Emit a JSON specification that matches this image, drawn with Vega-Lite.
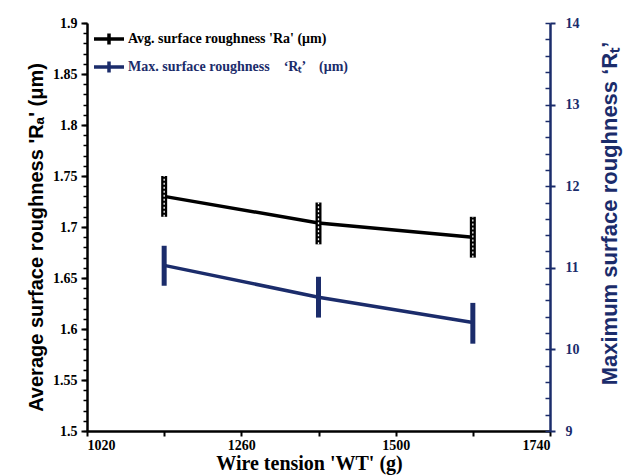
{
  "$schema": "https://vega.github.io/schema/vega-lite/v6.json",
  "width": 463,
  "height": 408,
  "autosize": {"type": "none"},
  "padding": {"left": 87, "top": 23, "right": 83, "bottom": 44},
  "background": "white",
  "config": {
    "view": {"stroke": null},
    "axis": {"grid": false, "labelFont": "Liberation Serif", "labelFontWeight": "bold", "labelFontSize": 14}
  },
  "datasets": {
    "ra": [
      {"t": 1140, "v": 1.730, "lo": 1.710, "hi": 1.750, "s": "Avg. surface roughness 'Ra' (μm)"},
      {"t": 1380, "v": 1.704, "lo": 1.683, "hi": 1.724, "s": "Avg. surface roughness 'Ra' (μm)"},
      {"t": 1620, "v": 1.690, "lo": 1.670, "hi": 1.710, "s": "Avg. surface roughness 'Ra' (μm)"}
    ],
    "rt": [
      {"t": 1140, "v": 11.03, "lo": 10.78, "hi": 11.27, "s": "Max. surface roughness \u00a0\u00a0\u00a0‘Rₜ’ \u00a0\u00a0\u00a0(μm)"},
      {"t": 1380, "v": 10.64, "lo": 10.39, "hi": 10.89, "s": "Max. surface roughness \u00a0\u00a0\u00a0‘Rₜ’ \u00a0\u00a0\u00a0(μm)"},
      {"t": 1620, "v": 10.33, "lo": 10.07, "hi": 10.57, "s": "Max. surface roughness \u00a0\u00a0\u00a0‘Rₜ’ \u00a0\u00a0\u00a0(μm)"}
    ]
  },
  "encoding": {
    "x": {
      "field": "t", "type": "quantitative",
      "scale": {"domain": [1020, 1740]},
      "axis": {
        "values": [1020, 1140, 1260, 1380, 1500, 1620, 1740],
        "labelExpr": "indexof([1020, 1260, 1500, 1740], datum.value) >= 0 ? datum.value : ''",
        "title": "Wire tension 'WT' (g)",
        "titleFont": "Liberation Serif", "titleFontWeight": "bold", "titleFontSize": 20, "titleColor": "black",
        "titlePadding": 1, "titleX": 222,
        "domainColor": "black", "domainWidth": 2.5,
        "tickColor": "black", "tickWidth": 2, "tickSize": 5,
        "labelPadding": 2, "labelColor": "black"
      }
    }
  },
  "layer": [
    {
      "data": {"name": "ra"},
      "layer": [
        {
          "mark": {"type": "line", "strokeWidth": 3.5},
          "encoding": {
            "y": {
              "field": "v", "type": "quantitative",
              "scale": {"domain": [1.5, 1.9]},
              "axis": {
                "orient": "left",
                "values": [1.5, 1.55, 1.6, 1.65, 1.7, 1.75, 1.8, 1.85, 1.9],
                "format": "~g",
                "title": "Average surface roughness 'Rₐ' (μm)",
                "titleFont": "Liberation Sans", "titleFontWeight": "bold", "titleFontSize": 20, "titleColor": "black",
                "titlePadding": 6, "titleY": 214,
                "domainColor": "black", "domainWidth": 2.5,
                "tickColor": "black", "tickWidth": 2, "tickSize": 6,
                "labelPadding": 4, "labelColor": "black"
              }
            },
            "color": {
              "field": "s", "type": "nominal",
              "scale": {
                "domain": ["Avg. surface roughness 'Ra' (μm)", "Max. surface roughness \u00a0\u00a0\u00a0‘Rₜ’ \u00a0\u00a0\u00a0(μm)"],
                "range": ["black", "#1b2c6b"]
              },
              "legend": {
                "orient": "none", "legendX": 10, "legendY": 4, "padding": 0,
                "title": null,
                "labelFont": "Liberation Serif", "labelFontWeight": "bold", "labelFontSize": 14,
                "labelLimit": 500,
                "labelOffset": 7, "rowPadding": 2,
                "symbolType": "M-1.5,0H1.5M0,-0.55V0.55",
                "symbolSize": 400, "symbolStrokeWidth": 3.5,
                "encode": {
                  "labels": {"update": {"fill": {"signal": "indexof(datum.value, 'Max') === 0 ? '#1b2c6b' : 'black'"}}}
                }
              }
            }
          }
        },
        {
          "mark": {"type": "rule", "strokeWidth": 6, "color": "black"},
          "encoding": {
            "y": {
              "field": "lo", "type": "quantitative",
              "axis": {
                "orient": "left", "title": null, "labels": false, "domain": false,
                "values": [1.5, 1.51, 1.52, 1.53, 1.54, 1.55, 1.56, 1.57, 1.58, 1.59, 1.6, 1.61, 1.62, 1.63, 1.64, 1.65, 1.66, 1.67, 1.68, 1.69, 1.7, 1.71, 1.72, 1.73, 1.74, 1.75, 1.76, 1.77, 1.78, 1.79, 1.8, 1.81, 1.82, 1.83, 1.84, 1.85, 1.86, 1.87, 1.88, 1.89, 1.9],
                "tickColor": "black", "tickWidth": 1.5, "tickSize": 4
              }
            },
            "y2": {"field": "hi"}
          }
        },
        {
          "mark": {"type": "rule", "strokeWidth": 1.3, "color": "white", "strokeDash": [2, 2]},
          "encoding": {
            "y": {"field": "lo", "type": "quantitative", "axis": null},
            "y2": {"field": "hi"}
          }
        }
      ],
      "resolve": {"axis": {"y": "independent"}}
    },
    {
      "data": {"name": "rt"},
      "layer": [
        {
          "mark": {"type": "line", "strokeWidth": 3.5},
          "encoding": {
            "y": {
              "field": "v", "type": "quantitative",
              "scale": {"domain": [9, 14]},
              "axis": {
                "orient": "right",
                "values": [9, 10, 11, 12, 13, 14],
                "format": "d",
                "title": "Maximum surface roughness ‘Rₜ’",
                "titleFont": "Liberation Sans", "titleFontWeight": "bold", "titleFontSize": 22, "titleColor": "#1b2c6b",
                "titleAngle": 270, "titleY": 190,
                "titlePadding": 42,
                "domainColor": "#1b2c6b", "domainWidth": 2.5,
                "tickColor": "#1b2c6b", "tickWidth": 2, "tickSize": 5,
                "labelPadding": 10, "labelColor": "#1b2c6b"
              }
            },
            "color": {"field": "s", "type": "nominal"}
          }
        },
        {
          "mark": {"type": "rule", "strokeWidth": 5, "color": "#1b2c6b"},
          "encoding": {
            "y": {
              "field": "lo", "type": "quantitative",
              "axis": {
                "orient": "right", "title": null, "labels": false, "domain": false,
                "values": [9, 9.2, 9.4, 9.6, 9.8, 10, 10.2, 10.4, 10.6, 10.8, 11, 11.2, 11.4, 11.6, 11.8, 12, 12.2, 12.4, 12.6, 12.8, 13, 13.2, 13.4, 13.6, 13.8, 14],
                "tickColor": "#1b2c6b", "tickWidth": 1.5, "tickSize": -5
              }
            },
            "y2": {"field": "hi"}
          }
        }
      ],
      "resolve": {"axis": {"y": "independent"}}
    }
  ],
  "resolve": {"scale": {"y": "independent"}}
}
